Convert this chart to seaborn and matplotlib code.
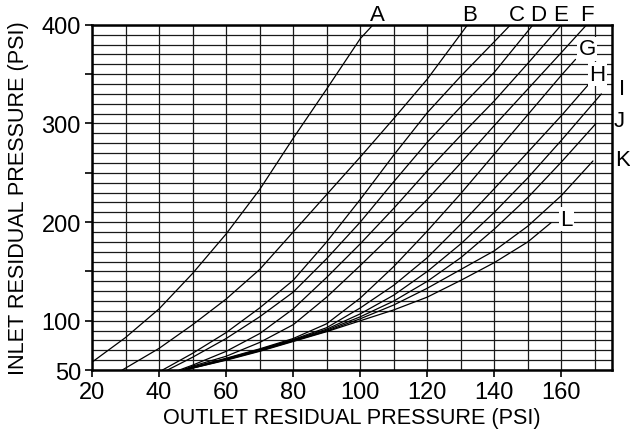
#pressure curves chart: inlet vs outlet residual pressure
import pandas as pd
import numpy as np
import matplotlib
import matplotlib.pyplot as plt
from matplotlib.ticker import MultipleLocator
import seaborn as sns

sns.set_style('ticks')
plt.rcParams['font.family'] = ['Liberation Sans', 'DejaVu Sans']
for key in ['text.color', 'axes.labelcolor', 'xtick.color', 'ytick.color', 'axes.edgecolor']:
    plt.rcParams[key] = 'black'

#values, outlet psi (x) and inlet psi (y) for each curve
a_out = [20, 30, 40, 50, 60, 70, 80, 90, 100, 103.8]
a_in = [58, 83, 112, 148, 188, 233, 285, 335, 386, 400]
b_out = [29, 40, 50, 60, 70, 80, 90, 100, 110, 120, 132]
b_in = [50, 72, 96, 122, 152, 190, 228, 266, 305, 345, 400]
c_out = [41, 50, 60, 70, 80, 90, 100, 110, 120, 130, 140, 144.8]
c_in = [50, 67, 88, 113, 141, 180, 223, 268, 311, 348, 383, 400]
d_out = [42.5, 50, 60, 70, 80, 90, 100, 110, 120, 130, 140, 151.5]
d_in = [50, 63, 82, 104, 129, 163, 200, 241, 281, 317, 352, 400]
e_out = [46, 50, 60, 70, 80, 90, 100, 110, 120, 130, 140, 150, 160]
e_in = [50, 55, 69, 87, 112, 144, 178, 214, 252, 288, 323, 361, 400]
f_out = [47, 50, 60, 70, 80, 90, 100, 110, 120, 130, 140, 150, 160, 167.5]
f_in = [50, 54, 64, 78, 96, 124, 156, 189, 223, 260, 298, 335, 372, 400]
g_out = [47, 50, 60, 70, 80, 90, 100, 110, 120, 130, 140, 150, 160, 164.2]
g_in = [50, 53, 62, 71.5, 82, 97, 123, 155, 191, 229, 269, 309, 349, 365]
h_out = [47, 50, 60, 70, 80, 90, 100, 110, 120, 130, 140, 150, 160, 168.2]
h_in = [50, 53, 61.5, 71, 81, 93, 113, 136, 164, 198, 234, 271, 308, 340]
i_out = [47.5, 50, 60, 70, 80, 90, 100, 110, 120, 130, 140, 150, 160, 171.9]
i_in = [50, 52.5, 61, 70.5, 80.5, 91.5, 107, 126, 150, 178, 210, 245, 283, 330]
j_out = [47.5, 50, 60, 70, 80, 90, 100, 110, 120, 130, 140, 150, 160, 170.3]
j_in = [50, 52.5, 61, 70, 80, 90.5, 104, 120, 140, 164, 193, 225, 261, 300]
k_out = [48, 50, 60, 70, 80, 90, 100, 110, 120, 130, 140, 150, 160, 169.4]
k_in = [50, 52, 60.5, 69.5, 79.5, 89.5, 102, 116, 133, 152, 171, 196, 227, 262]
l_out = [48, 50, 60, 70, 80, 90, 100, 110, 120, 130, 140, 150, 156.9]
l_in = [50, 52, 60, 69, 79, 89, 100, 111, 124, 141, 159, 180, 199.4]

curve_names = ['A', 'B', 'C', 'D', 'E', 'F', 'G', 'H', 'I', 'J', 'K', 'L']
outs = [a_out, b_out, c_out, d_out, e_out, f_out, g_out, h_out, i_out, j_out, k_out, l_out]
ins = [a_in, b_in, c_in, d_in, e_in, f_in, g_in, h_in, i_in, j_in, k_in, l_in]

#long form table for seaborn
rows = []
for name, xs, ys in zip(curve_names, outs, ins):
    for x, y in zip(xs, ys):
        rows.append({'curve': name, 'outlet': x, 'inlet': y})
df = pd.DataFrame(rows)

fig, ax = plt.subplots(figsize=(6.3, 4.31), dpi=100)
fig.subplots_adjust(left=0.146, right=0.971, top=0.94, bottom=0.139)

sns.lineplot(data=df, x='outlet', y='inlet', units='curve', estimator=None, sort=False,
             color='black', linewidth=0.9, ax=ax, zorder=3)

ax.set_xlim(20, 175)
ax.set_ylim(50, 400)

#ticks and grid
ax.set_xticks(range(20, 161, 20))
ax.xaxis.set_minor_locator(MultipleLocator(10))
ax.set_yticks(range(50, 401, 50))
ax.set_yticklabels(['50', '100', '', '200', '', '300', '', '400'])
ax.yaxis.set_minor_locator(MultipleLocator(10))
ax.grid(True, which='both', color='#1a1a1a', linewidth=0.9)
ax.tick_params(which='major', direction='out', length=5, width=1.2, labelsize=17, pad=3)
ax.tick_params(which='minor', length=0)
for s in ax.spines.values():
    s.set_linewidth(1.8)
    s.set_zorder(5)

ax.set_xlabel('OUTLET RESIDUAL PRESSURE (PSI)', fontsize=15.6, labelpad=3)
ax.set_ylabel('INLET RESIDUAL PRESSURE (PSI)', fontsize=15.6, labelpad=9)

#curve labels
label_pos = {'A': (105.0, 411), 'B': (132.7, 411), 'C': (146.8, 411), 'D': (153.2, 411),
             'E': (159.7, 411), 'F': (167.7, 411), 'G': (167.7, 375.6), 'H': (170.7, 350),
             'I': (178.1, 335), 'J': (177.3, 303.5), 'K': (178.1, 264), 'L': (161.5, 203)}
for name in curve_names:
    x, y = label_pos[name]
    if name in ['G', 'H', 'L']:
        ax.text(x, y, name, fontsize=16, ha='center', va='center', zorder=6, clip_on=False,
                bbox=dict(facecolor='white', edgecolor='none', pad=1.0))
    else:
        ax.text(x, y, name, fontsize=16, ha='center', va='center', zorder=6, clip_on=False)

plt.savefig('out.png', dpi=100)
